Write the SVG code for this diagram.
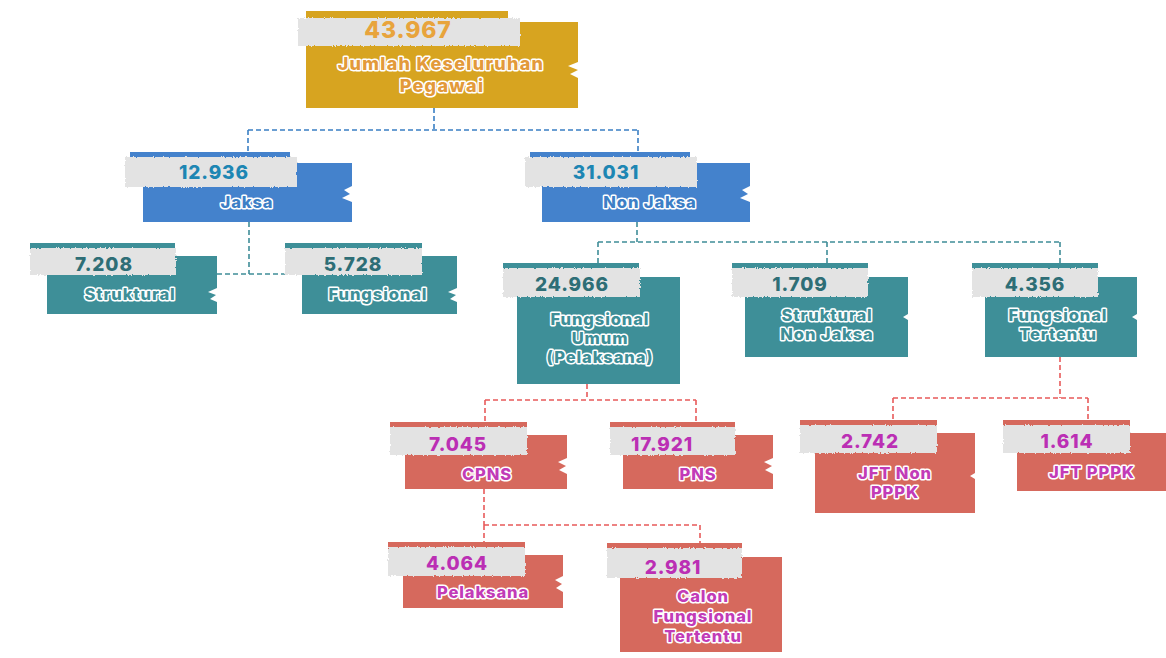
<svg xmlns="http://www.w3.org/2000/svg" width="1166" height="658" viewBox="0 0 1166 658">
<defs>
<filter id="rough" x="-5%" y="-20%" width="110%" height="140%">
<feTurbulence type="fractalNoise" baseFrequency="0.6" numOctaves="2" seed="3" result="n"/>
<feDisplacementMap in="SourceGraphic" in2="n" scale="3" xChannelSelector="R" yChannelSelector="G"/>
</filter>
<style>
.tape{fill:#e3e3e3;filter:url(#rough)}
.gold{fill:#d7a420}
.blue{fill:#4482cc}
.teal{fill:#3e8f98}
.red{fill:#d6695d}
.num{font-family:Inter,"Liberation Sans",sans-serif;font-weight:800;font-size:19px;letter-spacing:0.9px;text-anchor:middle}
.lbl{font-family:Inter,"Liberation Sans",sans-serif;font-weight:800;font-size:16.5px;letter-spacing:0.9px;text-anchor:middle;stroke:#fff;stroke-width:3px;paint-order:stroke;stroke-linejoin:round}
.ng{fill:#e8a43c}.nb{fill:#1d86b3}.nt{fill:#2e6e76}.nr{fill:#bb2fb4}
.lg{fill:#e39a3a}.lb{fill:#3d7fc6}.lt{fill:#3e8f98}.lr{fill:#c23bb7}
.cb{stroke:#3a7fc4}.ct{stroke:#3f8d98}.cr{stroke:#e85a5a}
#connectors path{fill:none;stroke-width:1.6;stroke-dasharray:5 3}
</style>
</defs>
<rect width="1166" height="658" fill="#ffffff"/>
<g id="connectors">
<path class="cb" d="M434 108V130M248 130H638M248 130V152M638 130V152"/>
<path class="ct" d="M249 222V274M217 274H287M637 222V242M598 242H1060M598 242V263M827 242V263M1060 242V263"/>
<path class="cr" d="M587 384V400M485 400H696M485 400V422M696 400V422M1060 357V398M893 398H1088M893 398V420M1088 398V425M484 489V525M484 525H700M700 525V543M484 525V542"/>
</g>
<g id="n-total">
<rect class="gold" x="306" y="11" width="202" height="9"/>
<path class="gold" d="M306 22H578V62L568 66L578 70L570 74L578 78V108H306Z"/>
<rect class="tape" x="298" y="18" width="222" height="28"/>
<text class="num ng" x="408" y="38" style="font-size:23px">43.967</text>
<text class="lbl lg" x="441" y="70" style="font-size:18px;letter-spacing:1.3px">Jumlah Keseluruhan</text>
<text class="lbl lg" x="442" y="92" style="font-size:18px;letter-spacing:1.3px">Pegawai</text>
</g>
<g id="n-jaksa">
<rect class="blue" x="130" y="152" width="160" height="7"/>
<path class="blue" d="M143 163H352V186L344 190L350 194L342 198L352 202V222H143Z"/>
<rect class="tape" x="125" y="157" width="172" height="30"/>
<text class="num nb" x="214" y="179">12.936</text>
<text class="lbl lb" x="247" y="208">Jaksa</text>
</g>
<g id="n-nonjaksa">
<rect class="blue" x="530" y="152" width="160" height="7"/>
<path class="blue" d="M542 163H750V186L742 190L748 194L740 198L750 202V222H542Z"/>
<rect class="tape" x="525" y="157" width="172" height="30"/>
<text class="num nb" x="606" y="179">31.031</text>
<text class="lbl lb" x="650" y="208">Non Jaksa</text>
</g>
<g id="n-struktural">
<rect class="teal" x="30" y="243" width="145" height="7"/>
<path class="teal" d="M47 256H217V288L208 292L216 295L210 299L217 302V314H47Z"/>
<rect class="tape" x="30" y="248" width="146" height="27"/>
<text class="num nt" x="104" y="271">7.208</text>
<text class="lbl lt" x="130" y="300">Struktural</text>
</g>
<g id="n-fungsional">
<rect class="teal" x="285" y="243" width="137" height="7"/>
<path class="teal" d="M302 256H457V288L448 292L456 295L450 299L457 302V314H302Z"/>
<rect class="tape" x="285" y="248" width="137" height="27"/>
<text class="num nt" x="353" y="271">5.728</text>
<text class="lbl lt" x="378" y="300">Fungsional</text>
</g>
<g id="n-fungum">
<rect class="teal" x="503" y="263" width="136" height="7"/>
<path class="teal" d="M517 277H680V384H517Z"/>
<rect class="tape" x="503" y="268" width="137" height="29"/>
<text class="num nt" x="572" y="291">24.966</text>
<text class="lbl lt" x="600" y="325">Fungsional</text>
<text class="lbl lt" x="600" y="344">Umum</text>
<text class="lbl lt" x="600" y="363">(Pelaksana)</text>
</g>
<g id="n-strukturalnj">
<rect class="teal" x="732" y="263" width="136" height="7"/>
<path class="teal" d="M745 277H908V314L903 317L908 320V357H745Z"/>
<rect class="tape" x="732" y="268" width="136" height="29"/>
<text class="num nt" x="800" y="291">1.709</text>
<text class="lbl lt" x="827" y="321">Struktural</text>
<text class="lbl lt" x="827" y="340">Non Jaksa</text>
</g>
<g id="n-fungtertentu">
<rect class="teal" x="972" y="263" width="126" height="7"/>
<path class="teal" d="M985 277H1137V314L1132 317L1137 320V357H985Z"/>
<rect class="tape" x="972" y="268" width="126" height="29"/>
<text class="num nt" x="1035" y="291">4.356</text>
<text class="lbl lt" x="1058" y="321">Fungsional</text>
<text class="lbl lt" x="1058" y="340">Tertentu</text>
</g>
<g id="n-cpns">
<rect class="red" x="390" y="422" width="137" height="7"/>
<path class="red" d="M405 435H567V458L558 462L566 466L559 470L567 474V489H405Z"/>
<rect class="tape" x="390" y="427" width="137" height="28"/>
<text class="num nr" x="458" y="451">7.045</text>
<text class="lbl lr" x="487" y="480">CPNS</text>
</g>
<g id="n-pns">
<rect class="red" x="610" y="422" width="125" height="7"/>
<path class="red" d="M623 435H773V458L764 462L772 466L765 470L773 474V489H623Z"/>
<rect class="tape" x="610" y="427" width="125" height="28"/>
<text class="num nr" x="662" y="451">17.921</text>
<text class="lbl lr" x="698" y="480">PNS</text>
</g>
<g id="n-jftnon">
<rect class="red" x="800" y="420" width="137" height="7"/>
<path class="red" d="M815 433H975V473L970 476L975 479V513H815Z"/>
<rect class="tape" x="800" y="425" width="137" height="28"/>
<text class="num nr" x="870" y="448">2.742</text>
<text class="lbl lr" x="895" y="479">JFT Non</text>
<text class="lbl lr" x="895" y="498">PPPK</text>
</g>
<g id="n-jftpppk">
<rect class="red" x="1003" y="420" width="127" height="7"/>
<path class="red" d="M1017 433H1166V491H1017Z"/>
<rect class="tape" x="1003" y="425" width="127" height="28"/>
<text class="num nr" x="1067" y="448">1.614</text>
<text class="lbl lr" x="1092" y="478">JFT PPPK</text>
</g>
<g id="n-pelaksana">
<rect class="red" x="388" y="542" width="137" height="7"/>
<path class="red" d="M403 555H563V576L555 580L562 584L556 588L563 592V608H403Z"/>
<rect class="tape" x="388" y="547" width="137" height="29"/>
<text class="num nr" x="457" y="570">4.064</text>
<text class="lbl lr" x="483" y="598">Pelaksana</text>
</g>
<g id="n-calon">
<rect class="red" x="607" y="543" width="135" height="7"/>
<path class="red" d="M620 557H782V652H620Z"/>
<rect class="tape" x="607" y="548" width="135" height="30"/>
<text class="num nr" x="673" y="574">2.981</text>
<text class="lbl lr" x="703" y="602">Calon</text>
<text class="lbl lr" x="703" y="622">Fungsional</text>
<text class="lbl lr" x="703" y="642">Tertentu</text>
</g>
</svg>
